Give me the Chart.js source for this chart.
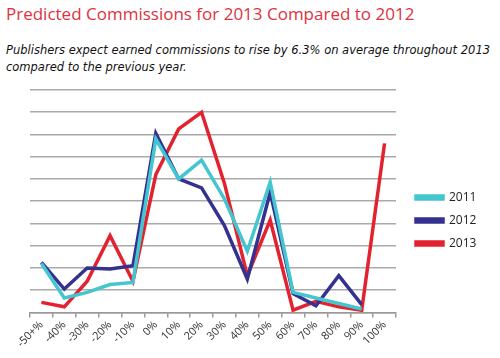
<!DOCTYPE html>
<html>
<head>
<meta charset="utf-8">
<script src="https://cdn.jsdelivr.net/npm/chart.js@4"></script>
<style>
  body { margin: 0; background: #fff; width: 500px; height: 358px; overflow: hidden; position: relative; }
  .title { position: absolute; left: 6px; top: 2px; font-family: "Open Sans", sans-serif; font-size: 17px; color: #e0313d; white-space: nowrap; }
  .sub { position: absolute; left: 6px; top: 42px; font-family: "DejaVu Sans", sans-serif; font-style: italic; font-size: 11.5px; line-height: 17px; color: #111; }
  .wrap { position: absolute; left: 0; top: 80px; width: 500px; height: 278px; }
</style>
</head>
<body>
<div class="title">Predicted Commissions for 2013 Compared to 2012</div>
<div class="sub">Publishers expect earned commissions to rise by 6.3% on average throughout 2013<br>compared to the previous year.</div>
<div class="wrap"><canvas id="chart"></canvas></div>
<script>
// categories (x axis)
const categories = ['-50+%', '-40%', '-30%', '-20%', '-10%', '0%', '10%', '20%', '30%', '40%', '50%', '60%', '70%', '80%', '90%', '100%'];

// values, in gridline units (no y labels shown)
const data2011 = [2.2, 0.65, 0.9, 1.25, 1.35, 7.8, 6.0, 6.85, 5.1, 2.75, 5.85, 0.9, 0.65, 0.4, 0.15, null];
const data2012 = [2.25, 1.05, 2.0, 1.95, 2.1, 8.05, 6.0, 5.6, 3.9, 1.5, 5.4, 0.85, 0.3, 1.65, 0.35, null];
const data2013 = [0.45, 0.25, 1.4, 3.45, 1.4, 6.2, 8.25, 9.0, 5.8, 1.65, 4.15, 0.1, 0.5, 0.25, 0.1, 7.6];

const ctx = document.getElementById('chart');
new Chart(ctx, {
    type: 'line',
    data: {
        labels: categories,
        datasets: [
            { label: '2011', data: data2011, borderColor: '#43c6cf', backgroundColor: '#43c6cf', borderWidth: 3.5, pointRadius: 0, tension: 0 },
            { label: '2012', data: data2012, borderColor: '#35318f', backgroundColor: '#35318f', borderWidth: 3.5, pointRadius: 0, tension: 0 },
            { label: '2013', data: data2013, borderColor: '#e3222f', backgroundColor: '#e3222f', borderWidth: 3.5, pointRadius: 0, tension: 0 }
        ]
    },
    options: {
        responsive: true,
        maintainAspectRatio: false,
        animation: false,
        layout: { padding: { left: 30, top: 10, right: 20, bottom: 7 } },
        plugins: {
            tooltip: { enabled: false },
            legend: {
                position: 'right',
                labels: {
                    boxWidth: 27,
                    boxHeight: 3,
                    color: '#222',
                    font: { family: 'Open Sans', size: 12 },
                    padding: 11
                }
            }
        },
        scales: {
            x: {
                offset: true,
                grid: { offset: true, drawOnChartArea: false, drawTicks: true, tickLength: 5, color: '#999', lineWidth: 1.5 },
                border: { color: '#999', width: 1.5 },
                ticks: { autoSkip: false, maxRotation: 45, minRotation: 45, color: '#333', font: { family: 'Open Sans', size: 11 }, padding: 1 }
            },
            y: {
                min: 0,
                max: 10,
                ticks: { stepSize: 1, display: false },
                grid: { color: '#aaa', lineWidth: 1.5, drawTicks: false },
                border: { display: false }
            },
            // empty axis, only keeps a gap between the plot and the legend
            gap: {
                position: 'right',
                grid: { display: false },
                ticks: { display: false },
                border: { display: false },
                afterFit: (scale) => { scale.width = 9; }
            }
        }
    }
});
</script>
</body>
</html>
